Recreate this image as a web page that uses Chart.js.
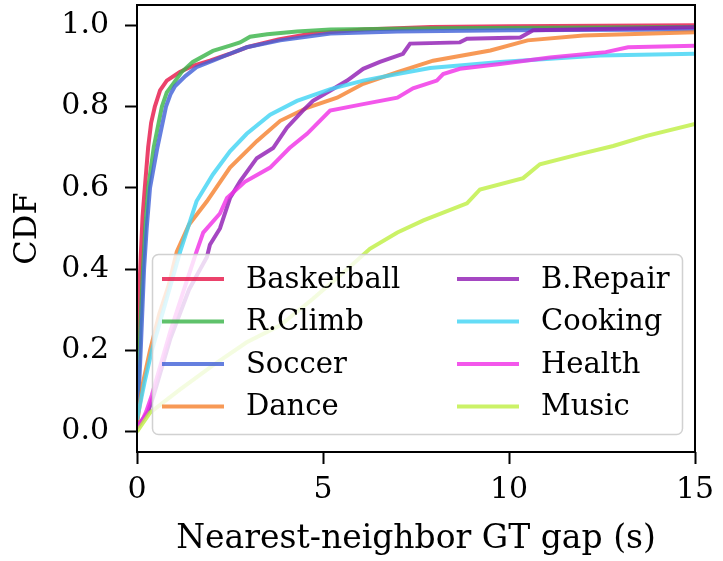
<!DOCTYPE html>
<html lang="en">
<head>
<meta charset="UTF-8">
<title>CDF of nearest-neighbor GT gap</title>
<script src="https://cdn.jsdelivr.net/npm/chart.js"></script>
<style>
  html, body { margin: 0; padding: 0; background: #fff; }
  #wrap { width: 723px; height: 561px; }
</style>
</head>
<body>
<div id="wrap"><canvas id="cdf" width="723" height="561"></canvas></div>
<script>
  // series as [gap (s), CDF]
  const names = ['Basketball', 'R.Climb', 'Soccer', 'Dance', 'B.Repair', 'Cooking', 'Health', 'Music'];
  const colors = ['#e6194b', '#3cb44b', '#4363d8', '#f58231', '#911eb4', '#42d4f4', '#f032e6', '#bfef45'];

  const basketball = [[0,0.2],[0.05,0.32],[0.1,0.43],[0.15,0.53],[0.21,0.6],[0.3,0.7],[0.38,0.76],[0.48,0.8],[0.62,0.84],[0.8,0.864],[1.15,0.885],[1.5,0.9],[1.96,0.913],[2.5,0.93],[2.95,0.946],[3.8,0.965],[4.7,0.98],[6.1,0.99],[7.9,0.996],[10,0.998],[15,1.0]];
  const rclimb = [[0,0.04],[0.05,0.15],[0.1,0.28],[0.16,0.4],[0.22,0.5],[0.3,0.6],[0.45,0.7],[0.67,0.8],[0.8,0.835],[0.97,0.856],[1.2,0.885],[1.5,0.91],[2.04,0.937],[2.5,0.95],[2.77,0.958],[3.04,0.972],[3.5,0.978],[4.3,0.985],[5.2,0.99],[8,0.993],[15,0.996]];
  const soccer = [[0,0.02],[0.05,0.1],[0.1,0.2],[0.19,0.4],[0.26,0.5],[0.35,0.6],[0.55,0.7],[0.78,0.8],[0.9,0.83],[1.02,0.85],[1.3,0.875],[1.6,0.897],[2.04,0.913],[2.5,0.93],[2.95,0.946],[3.85,0.963],[5.2,0.98],[7,0.985],[10,0.988],[15,0.99]];
  const dance = [[0,0.02],[0.16,0.12],[0.35,0.2],[0.6,0.29],[0.85,0.36],[1.07,0.443],[1.4,0.51],[1.88,0.567],[2.2,0.61],[2.5,0.65],[3.22,0.715],[3.85,0.765],[4.57,0.797],[5.38,0.822],[6.08,0.856],[7.0,0.885],[7.96,0.913],[9.5,0.938],[10.5,0.963],[12.0,0.975],[15,0.983]];
  const brepair = [[0,0.01],[0.15,0.03],[0.3,0.05],[0.45,0.09],[0.9,0.23],[1.4,0.35],[1.7,0.4],[1.88,0.43],[1.96,0.46],[2.23,0.5],[2.5,0.575],[2.77,0.616],[3.22,0.673],[3.66,0.698],[4.03,0.748],[4.46,0.79],[4.73,0.814],[5.19,0.839],[5.65,0.864],[6.08,0.893],[6.53,0.91],[7.15,0.93],[7.34,0.955],[8.68,0.958],[8.87,0.967],[10.3,0.97],[10.65,0.988],[15,0.995]];
  const cooking = [[0,0.03],[0.2,0.12],[0.4,0.2],[0.65,0.28],[0.9,0.36],[1.16,0.443],[1.6,0.567],[2.04,0.633],[2.5,0.69],[2.95,0.733],[3.58,0.78],[4.3,0.814],[5.2,0.843],[6.08,0.864],[7.0,0.88],[7.88,0.895],[9.76,0.91],[12.45,0.926],[15,0.93]];
  const health = [[0,0.01],[0.15,0.03],[0.25,0.05],[0.4,0.09],[0.89,0.245],[1.3,0.36],[1.6,0.443],[1.78,0.49],[2.23,0.537],[2.42,0.575],[2.9,0.615],[3.58,0.65],[4.1,0.698],[4.57,0.733],[5.19,0.79],[6.08,0.806],[7.0,0.822],[7.42,0.845],[8.06,0.864],[8.23,0.88],[8.68,0.893],[9.76,0.905],[11.1,0.921],[12.6,0.934],[13.2,0.946],[15,0.95]];
  const music = [[0,0.0],[0.35,0.047],[1.16,0.104],[2.04,0.163],[2.95,0.22],[3.85,0.262],[4.73,0.327],[5.65,0.4],[6.26,0.45],[7.0,0.49],[7.7,0.52],[8.87,0.562],[9.22,0.596],[10.38,0.624],[10.83,0.658],[11.9,0.683],[12.8,0.703],[13.7,0.728],[15,0.757]];

  const series = [basketball, rclimb, soccer, dance, brepair, cooking, health, music];
  const xTicks = [0, 5, 10, 15];
  const yTicks = [0, 0.2, 0.4, 0.6, 0.8, 1.0];

  const SERIF = "'DejaVu Serif', serif";

  function alpha(hex, a) {
    const n = parseInt(hex.slice(1), 16);
    return `rgba(${n >> 16},${(n >> 8) & 255},${n & 255},${a})`;
  }

  // black box round the plot area
  const frame = {
    id: 'frame',
    afterDatasetsDraw(chart) {
      const {ctx, chartArea: a} = chart;
      ctx.save();
      ctx.strokeStyle = '#000';
      ctx.lineWidth = 2;
      ctx.strokeRect(a.left, a.top, a.right - a.left, a.bottom - a.top);
      ctx.restore();
    }
  };

  // matplotlib-like legend inside the axes, 2 columns
  const innerLegend = {
    id: 'innerLegend',
    afterDraw(chart) {
      const {ctx} = chart;
      const box = {x: 152, y: 254, w: 530, h: 180};
      ctx.save();
      ctx.beginPath();
      ctx.roundRect(box.x + 0.5, box.y + 0.5, box.w, box.h, 6);
      ctx.fillStyle = 'rgba(255,255,255,0.8)';
      ctx.fill();
      ctx.strokeStyle = 'rgba(204,204,204,0.9)';
      ctx.lineWidth = 1.5;
      ctx.stroke();
      ctx.font = `29px ${SERIF}`;
      ctx.textBaseline = 'middle';
      ctx.fillStyle = '#000';
      chart.data.datasets.forEach((ds, i) => {
        const col = Math.floor(i / 4), row = i % 4;
        const lx = col === 0 ? 162 : 457;
        const y = 279 + row * 42.5;
        ctx.strokeStyle = ds.borderColor;
        ctx.lineWidth = 4;
        ctx.beginPath();
        ctx.moveTo(lx, y);
        ctx.lineTo(lx + 62, y);
        ctx.stroke();
        ctx.fillText(ds.label, lx + 84, y + 1);
      });
      ctx.restore();
    }
  };

  new Chart(document.getElementById('cdf'), {
    type: 'line',
    data: {
      datasets: series.map((s, i) => ({
        label: names[i],
        data: s.map(([x, y]) => ({x, y})),
        borderColor: alpha(colors[i], 0.82),
        borderWidth: 4,
        pointRadius: 0,
        tension: 0,
        fill: false,
        clip: 0,
        order: series.length - i
      }))
    },
    options: {
      responsive: false,
      animation: false,
      devicePixelRatio: 1,
      layout: { padding: { left: 0, right: 28, top: 5, bottom: 0 } },
      plugins: { legend: { display: false }, tooltip: { enabled: false } },
      scales: {
        x: {
          type: 'linear', min: 0, max: 15,
          afterFit(scale) { scale.height = 109; scale.paddingLeft = 0; scale.paddingRight = 0; },
          afterBuildTicks(scale) { scale.ticks = xTicks.map(v => ({value: v})); },
          grid: { drawOnChartArea: false, drawTicks: true, tickLength: 12, tickWidth: 2, tickColor: '#000' },
          border: { display: false },
          ticks: { color: '#000', padding: 8, maxRotation: 0, font: { family: SERIF, size: 30 },
                   callback: v => String(v) },
          title: { display: true, text: 'Nearest-neighbor GT gap (s)', color: '#000',
                   font: { family: SERIF, size: 33 }, padding: { top: 0, bottom: 2 } }
        },
        y: {
          type: 'linear', min: -0.05, max: 1.05,
          afterFit(scale) { scale.width = 137; scale.paddingTop = 0; scale.paddingBottom = 0; },
          afterBuildTicks(scale) { scale.ticks = yTicks.map(v => ({value: v})); },
          grid: { drawOnChartArea: false, drawTicks: true, tickLength: 12, tickWidth: 2, tickColor: '#000' },
          border: { display: false },
          ticks: { color: '#000', padding: 16, font: { family: SERIF, size: 30 },
                   callback: v => v.toFixed(1) },
          title: { display: true, text: 'CDF', color: '#000',
                   font: { family: SERIF, size: 32 }, padding: { top: 8, bottom: 0 } }
        }
      }
    },
    plugins: [frame, innerLegend]
  });
</script>
</body>
</html>
